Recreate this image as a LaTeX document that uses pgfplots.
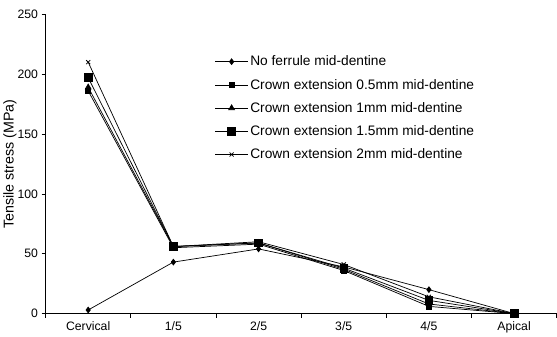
\documentclass[border=0pt]{standalone}
\usepackage{fontspec}
\setmainfont{Liberation Sans}
\usepackage{pgfplots}
\pgfplotsset{compat=1.18}
\begin{document}
\begin{tikzpicture}
\begin{axis}[
  name=main,
  scale only axis, width=502pt, height=294pt,
  xmin=-0.5, xmax=5.5, ymin=0, ymax=250,
  axis x line*=bottom, axis y line*=left,
  axis line style={-, black, line width=0.6pt},
  xtick={0,1,2,3,4,5},
  xticklabels={Cervical,1/5,2/5,3/5,4/5,Apical},
  major x tick style={draw=none},
  minor xtick={-0.5,0.5,1.5,2.5,3.5,4.5,5.5},
  minor tick length=4pt,
  minor x tick style={black, line width=0.6pt},
  ytick={0,50,100,150,200,250},
  major tick length=4pt,
  tick align=outside,
  y tick style={black, line width=0.6pt},
  ylabel={Tensile stress (MPa)},
  ylabel style={font=\fontsize{14}{16}\selectfont, yshift=-6pt},
  tick label style={font=\fontsize{12}{14}\selectfont},
  /pgf/number format/assume math mode=true,
  legend style={draw=none, fill=none, at={(rel axis cs:0.325,0.875)}, anchor=north west,
    font=\fontsize{13.5}{15}\selectfont, row sep=7.5pt, cells={anchor=west}},
  legend image code/.code={\draw[#1] (0pt,0pt) -- (32pt,0pt); \draw[#1, mark repeat=2, mark phase=2] plot coordinates {(0pt,0pt) (16pt,0pt) (32pt,0pt)};},
  every axis plot/.append style={black, line width=0.7pt, mark options={solid, fill=black}},
]
\addplot[mark=diamond*, mark size=2.8pt] coordinates {(0,3) (1,43) (2,54) (3,39) (4,20) (5,0)};
\addplot[mark=square*, mark size=2.5pt] coordinates {(0,186) (1,55) (2,58) (3,36) (4,6) (5,0)};
\addplot[mark=triangle*, mark size=3.2pt] coordinates {(0,189) (1,56) (2,59) (3,37) (4,8) (5,0)};
\addplot[mark=square*, mark size=3.8pt] coordinates {(0,197) (1,56) (2,59) (3,38) (4,11) (5,0)};
\addplot[mark=x, mark size=2.8pt, mark options={line width=0.8pt}] coordinates {(0,210) (1,56) (2,60) (3,41) (4,14) (5,0)};
\legend{No ferrule mid-dentine, Crown extension 0.5mm mid-dentine, Crown extension 1mm mid-dentine, Crown extension 1.5mm mid-dentine, Crown extension 2mm mid-dentine}
\end{axis}
\path (main.north west) ++(0,14pt);
\end{tikzpicture}
\end{document}
